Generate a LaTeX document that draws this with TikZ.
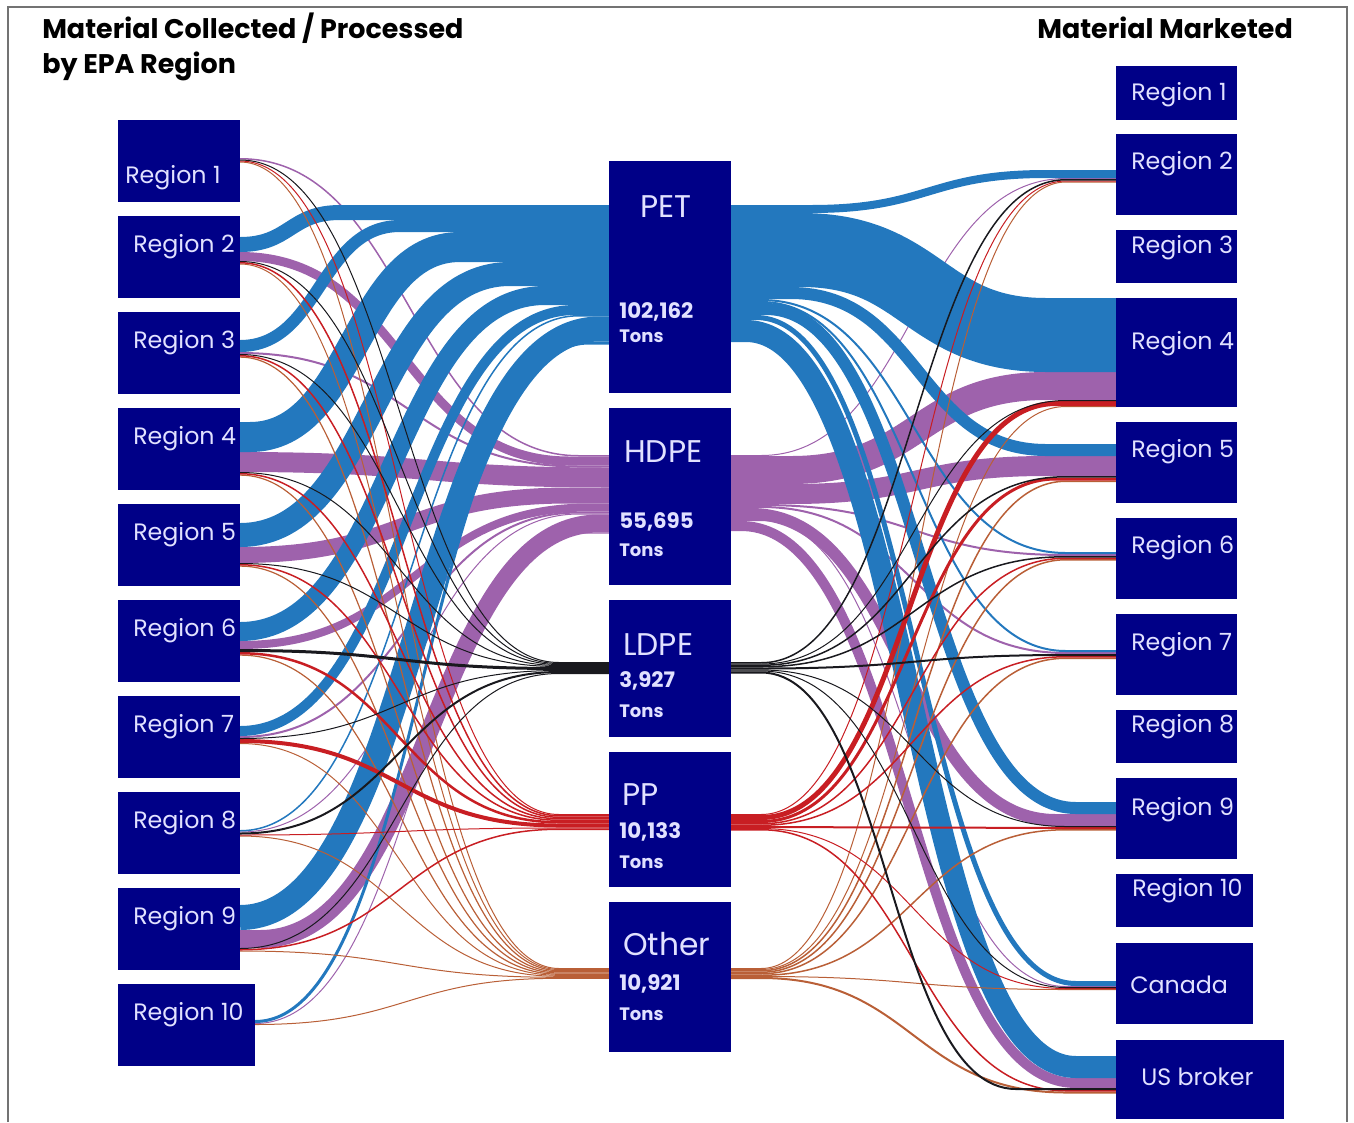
\documentclass[tikz,border=0pt]{standalone}
\usepackage{fontspec}
\setmainfont{Poppins}
\usetikzlibrary{calc}

\definecolor{boxblue}{RGB}{0,0,135}
\definecolor{boxtext}{RGB}{225,225,255}
\definecolor{petc}{RGB}{35,120,190}
\definecolor{hdpec}{RGB}{158,98,172}
\definecolor{ldpec}{RGB}{25,25,30}
\definecolor{ppc}{RGB}{200,30,35}
\definecolor{othc}{RGB}{185,95,55}

\pgfdeclarelayer{hdpe}
\pgfdeclarelayer{pet}
\pgfdeclarelayer{oth}
\pgfdeclarelayer{pp}
\pgfdeclarelayer{ldpe}
\pgfsetlayers{hdpe,pet,oth,pp,ldpe,main}

% running offsets (px from the top of a box)
\newcommand{\setoff}[2]{\expandafter\xdef\csname off#1\endcsname{#2}}
% from, to, width, kind, flat at start, flat at end
\newcommand{\flow}[6]{%
  \pgfmathsetmacro\fya{\csname offo#1\endcsname+#3/2}%
  \pgfmathsetmacro\fyb{\csname offi#2\endcsname+#3/2}%
  \pgfmathsetmacro\fyc{\csname offo#1\endcsname+#3}\setoff{o#1}{\fyc}%
  \pgfmathsetmacro\fyc{\csname offi#2\endcsname+#3}\setoff{i#2}{\fyc}%
  \begin{pgfonlayer}{#4}
  \path ($(#1.north east)+(0,\fya)$) coordinate (p0) ++(#5,0) coordinate (p1)
        ($(#2.north west)+(0,\fyb)$) coordinate (p3) ++(-#6,0) coordinate (p2)
        ($(p1)!.5!(p2)$) coordinate (pm);
  \draw[#4c,line width=#3*0.75pt] (p0) -- (p1) .. controls (pm |- p1) and (pm |- p2) .. (p2) -- (p3);
  \end{pgfonlayer}}

\begin{document}
\begin{tikzpicture}[x=0.75pt,y=-0.75pt,
  box/.style={fill=boxblue,inner sep=0pt,outer sep=0pt,anchor=north west},
  bx/.style 2 args={minimum width=#1*0.75pt,minimum height=#2*0.75pt},
  lbl/.style={text=boxtext,anchor=base west,inner sep=0pt,font=\fontsize{17.8}{19}\selectfont},
  kind/.style={text=boxtext,anchor=base west,inner sep=0pt,font=\fontsize{23.5}{26}\selectfont},
  amount/.style={text=boxtext,anchor=base west,inner sep=0pt,font=\bfseries\fontsize{16}{18}\selectfont},
  tons/.style={text=boxtext,anchor=base west,inner sep=0pt,font=\bfseries\fontsize{13.5}{15}\selectfont},
  head/.style={anchor=base west,inner sep=0pt,font=\bfseries\fontsize{20.2}{22}\selectfont}]
\useasboundingbox (0,0) rectangle (1354,1122);
\draw[line width=1.5pt,black!55] (8,1122) -- (8,7) -- (1347,7) -- (1347,1122);

% headings
\node[head] (hl) at (42,38) {Material Collected / Processed};
\node[head] (hl2) at (42,73) {by EPA Region};
\node[head] (hr) at (1037,38) {Material Marketed};

% collected / processed by region
\foreach \i in {1,...,9}
  \node[box,bx={122}{82}] (L\i) at (118,{120+96*(\i-1)}) {};
\node[box,bx={137}{82}] (L10) at (118,984) {};
\node[lbl] (tL1) at ($(L1.north west)+(7,63)$) {Region 1};
\foreach \i in {2,...,10}
  \node[lbl] (tL\i) at ($(L\i.north west)+(15,36)$) {Region \i};

% materials
\node[box,bx={122}{232}] (PET) at (609,161) {};
\node[box,bx={122}{177}] (HDPE) at (609,408) {};
\node[box,bx={122}{137}] (LDPE) at (609,600) {};
\node[box,bx={122}{135}] (PP) at (609,752) {};
\node[box,bx={122}{150}] (OTH) at (609,902) {};
\foreach \nm/\tx/\amt/\ox/\oy/\na/\nb in {PET/PET/{102,162}/31/56/157/181,
    HDPE/HDPE/{55,695}/15/54/120/148, LDPE/LDPE/{3,927}/14/55/87/117,
    PP/PP/{10,133}/13/53/86/116, OTH/Other/{10,921}/14/53/88/118}
{
  \node[kind] (k\nm) at ($(\nm.north west)+(\ox,\oy)$) {\tx};
  \node[amount] (n\nm) at ($(\nm.north west)+(10,\na)$) {\amt};
  \node[tons] (u\nm) at ($(\nm.north west)+(10,\nb)$) {Tons};
}

% marketed
\foreach \nm/\tx/\yt/\bh/\bw/\oy/\ox in {R1/Region 1/66/54/121/34/15,
    R2/Region 2/134/81/121/35/15, R3/Region 3/230/53/121/23/15,
    R4/Region 4/298/109/121/51/15, R5/Region 5/422/81/121/35/15,
    R6/Region 6/518/81/121/35/15, R7/Region 7/614/81/121/36/15,
    R8/Region 8/710/53/121/22/15, R9/Region 9/778/81/121/37/15,
    R10/Region 10/874/53/137/22/16, CA/Canada/943/81/137/50/14,
    US/US broker/1040/79/168/45/25}
{
  \node[box,bx={\bw}{\bh}] (\nm) at (1116,\yt) {};
  \node[lbl] (t\nm) at ($(\nm.north west)+(\ox,\oy)$) {\tx};
}

% region -> material
\setoff{oL1}{38}\setoff{oL2}{21}\setoff{oL3}{28}\setoff{oL4}{14}\setoff{oL5}{19}
\setoff{oL6}{22}\setoff{oL7}{30}\setoff{oL8}{38}\setoff{oL9}{17}\setoff{oL10}{36}
\setoff{iPET}{44}\setoff{iHDPE}{47}\setoff{iLDPE}{62}\setoff{iPP}{62}\setoff{iOTH}{66}

\flow{L2}{PET}{15}{pet}{0}{269}
\flow{L3}{PET}{12}{pet}{0}{209}
\flow{L4}{PET}{30}{pet}{10}{149}
\flow{L5}{PET}{24}{pet}{0}{99}
\flow{L6}{PET}{19}{pet}{0}{64}
\flow{L7}{PET}{10}{pet}{0}{34}
\flow{L8}{PET}{1.5}{pet}{0}{30}
\flow{L9}{PET}{25}{pet}{0}{10}
\flow{L10}{PET}{3}{pet}{0}{20}

\flow{L1}{HDPE}{1.5}{hdpe}{0}{30}
\flow{L2}{HDPE}{9}{hdpe}{0}{40}
\flow{L3}{HDPE}{2}{hdpe}{0}{30}
\flow{L4}{HDPE}{20}{hdpe}{0}{0}
\flow{L5}{HDPE}{16}{hdpe}{0}{40}
\flow{L6}{HDPE}{8}{hdpe}{0}{20}
\flow{L7}{HDPE}{2}{hdpe}{0}{30}
\flow{L8}{HDPE}{1}{hdpe}{0}{30}
\flow{L9}{HDPE}{18}{hdpe}{20}{10}
\flow{L10}{HDPE}{1}{hdpe}{0}{30}

\foreach \src/\w in {L1/1,L2/1,L3/1,L4/1,L5/1,L6/3,L7/1,L8/2,L9/1}
  {\flow{\src}{LDPE}{\w}{ldpe}{0}{50}}
\foreach \src/\w in {L1/1,L2/1.5,L3/1.5,L4/1.5,L5/1.5,L6/2.5,L7/4,L8/1,L9/1.5}
  {\flow{\src}{PP}{\w}{pp}{0}{50}}
\foreach \src/\w in {L1/1,L2/1,L3/1.2,L4/1.2,L5/1.2,L6/1.2,L7/1,L8/1,L9/1,L10/1}
  {\flow{\src}{OTH}{\w}{oth}{0}{50}}

% material -> market
\setoff{oPET}{44}\setoff{oHDPE}{47}\setoff{oLDPE}{62}\setoff{oPP}{62}\setoff{oOTH}{66}
\setoff{iR2}{36}\setoff{iR4}{0}\setoff{iR5}{22}\setoff{iR6}{34}\setoff{iR7}{36}
\setoff{iR9}{24}\setoff{iCA}{38}\setoff{iUS}{16}

\flow{PET}{R2}{8}{pet}{80}{70}
\flow{PET}{R4}{74}{pet}{70}{70}
\flow{PET}{R5}{12}{pet}{60}{70}
\flow{PET}{R6}{2}{pet}{30}{50}
\flow{PET}{R7}{2}{pet}{30}{50}
\flow{PET}{R9}{12}{pet}{35}{40}
\flow{PET}{CA}{5}{pet}{25}{40}
\flow{PET}{US}{22}{pet}{15}{40}

\flow{HDPE}{R2}{1}{hdpe}{30}{50}
\flow{HDPE}{R4}{28}{hdpe}{60}{70}
\flow{HDPE}{R5}{20}{hdpe}{60}{70}
\flow{HDPE}{R6}{2}{hdpe}{30}{50}
\flow{HDPE}{R7}{2}{hdpe}{30}{50}
\flow{HDPE}{R9}{12}{hdpe}{20}{60}
\flow{HDPE}{CA}{1}{hdpe}{30}{50}
\flow{HDPE}{US}{10}{hdpe}{10}{40}

\foreach \dst/\w in {R2/1.5,R4/1,R5/1.5,R6/1.5,R7/2,R9/1,CA/1}
  {\flow{LDPE}{\dst}{\w}{ldpe}{30}{50}}
\flow{LDPE}{US}{2}{ldpe}{30}{100}

\flow{PP}{R2}{1}{pp}{30}{50}
\flow{PP}{R4}{5}{pp}{30}{60}
\flow{PP}{R5}{3}{pp}{30}{60}
\foreach \dst/\w in {R6/1.5,R7/1.5,R9/2,CA/1,US/1.5}
  {\flow{PP}{\dst}{\w}{pp}{30}{50}}

\foreach \dst/\w in {R2/1,R4/1,R5/1.5,R6/1.5,R7/1.5,R9/1.5,CA/1,US/2}
  {\flow{OTH}{\dst}{\w}{oth}{30}{50}}
\end{tikzpicture}
\end{document}
